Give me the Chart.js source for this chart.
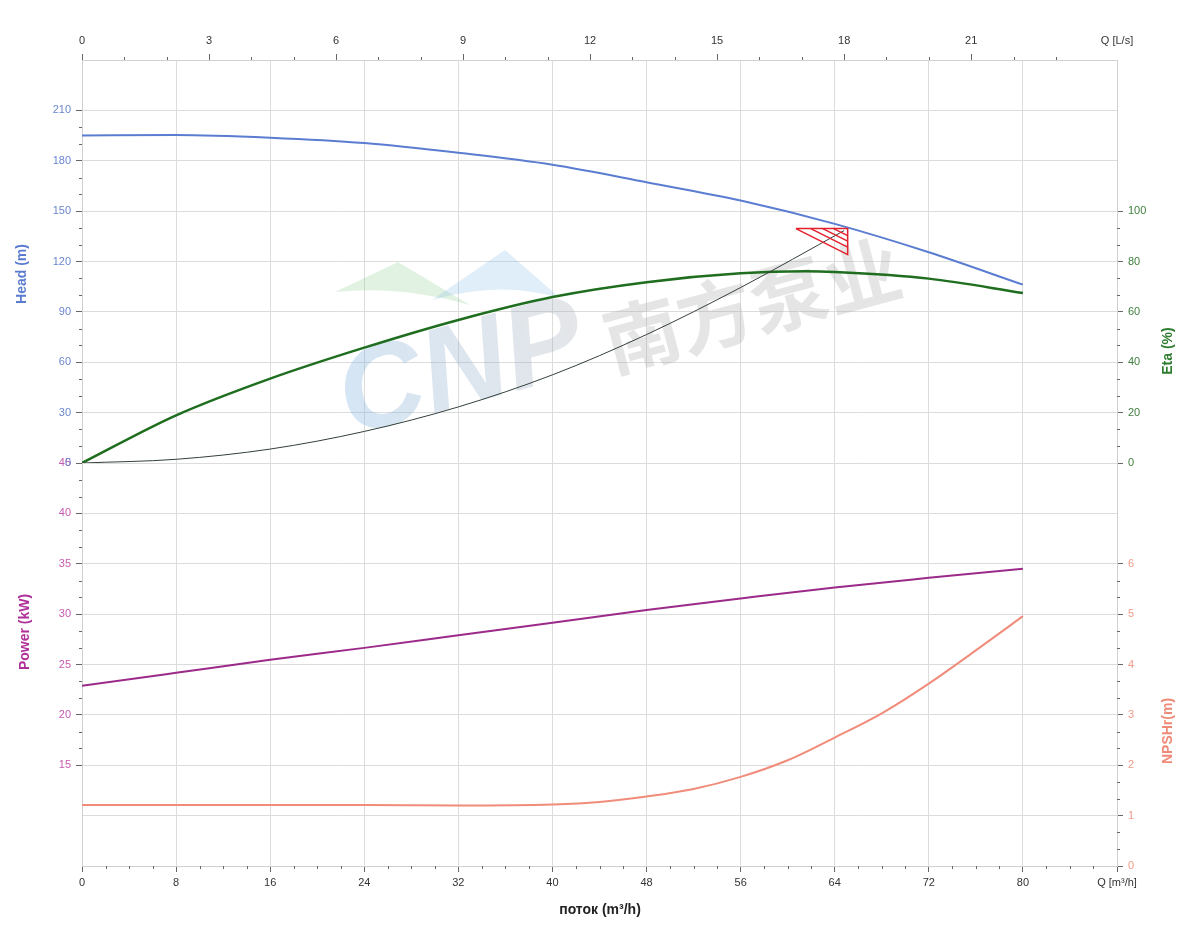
<!DOCTYPE html>
<html><head><meta charset="utf-8">
<script src="https://cdn.jsdelivr.net/npm/chart.js@4"></script>
<style>html,body{margin:0;padding:0;background:#fff}#wrap{width:1200px;height:950px;position:relative}</style>
</head><body><div id="wrap"><canvas id="c"></canvas></div>
<script>
// ---- data ----
const headFlow   = [0, 8, 16, 24, 32, 40, 48, 56, 64, 72, 80];
const headValues = [195.1, 195.3, 193.7, 190.5, 184.7, 177.6, 167.2, 156.3, 142.4, 125.5, 106.2];
const etaFlow    = [0, 8, 16, 24, 32, 40, 48, 56, 61.5, 64, 72, 80];
const etaValues  = [0, 18.9, 33.5, 45.8, 56.8, 65.9, 71.8, 75.3, 76.1, 75.8, 73.2, 67.5];
const systemFlow = [0, 8, 16, 24, 32, 40, 48, 56, 64.8];
const systemHead = [0, 2.2, 8.3, 18.8, 33.4, 52.5, 76.5, 104.5, 138.4];
const powerFlow  = [0, 8, 16, 24, 32, 40, 48, 56, 64, 72, 80];
const powerValues= [22.88, 24.17, 25.46, 26.65, 27.9, 29.15, 30.4, 31.55, 32.65, 33.6, 34.5];
const npshFlow   = [0, 8, 16, 24, 32, 40, 44, 48, 52, 56, 60, 64, 68, 72, 76, 80];
const npshValues = [1.21, 1.21, 1.21, 1.21, 1.2, 1.22, 1.27, 1.38, 1.53, 1.77, 2.1, 2.55, 3.03, 3.62, 4.28, 4.96];
const dutyTriFlow = [60.7, 65.1, 65.1, 60.7];
const dutyTriHead = [139.6, 139.6, 124.1, 139.6];
const hatchFlowStart = [61.96, 62.98, 63.91];
const hatchHeadStart = [139.6, 139.6, 139.6];
const hatchFlowEnd   = [65.1, 65.1, 65.1];
const hatchHeadEnd   = [128.6, 132.1, 135.4];

// ---- axis tick labels ----
const flowTickLabels = [0, 8, 16, 24, 32, 40, 48, 56, 64, 72, 80];   // m³/h
const flowAxisName = 'Q [m³/h]';
const lsTickLabels = [0, 3, 6, 9, 12, 15, 18, 21];                  // L/s
const lsAxisName = 'Q [L/s]';
const headTickLabels = [0, 30, 60, 90, 120, 150, 180, 210];
const powerTickLabels = [15, 20, 25, 30, 35, 40, 45];
const etaTickLabels = [0, 20, 40, 60, 80, 100];
const npshTickLabels = [0, 1, 2, 3, 4, 5, 6];

const FONT = "'Liberation Sans', Arial, sans-serif";
const pts = (xs, ys) => xs.map((x, i) => ({x, y: ys[i]}));

const hatchSets = hatchFlowStart.map((f, i) => ({
  data: [{x: f, y: hatchHeadStart[i]}, {x: hatchFlowEnd[i], y: hatchHeadEnd[i]}],
  xAxisID: 'x', yAxisID: 'yHead', borderColor: '#e3202c', borderWidth: 1.5,
  showLine: true, pointRadius: 0, tension: 0
}));

const tickLen = 6;
function gridCfg(labels, drawArea) {
  return {
    color: '#dcdcdc', lineWidth: 1, drawOnChartArea: drawArea, tickLength: tickLen,
    tickColor: ctx => (ctx.tick && labels.includes(Math.round(ctx.tick.value * 1000) / 1000)) ? '#666' : 'rgba(0,0,0,0)'
  };
}
function lbl(labels) {
  return v => labels.includes(Math.round(v * 1000) / 1000) ? String(v) : '';
}

// minor ticks plugin
const minorDefs = {
  x:      {from: 0, to: 88, step: 2, major: 8},
  x2:     {from: 0, to: 24, step: 1, major: 3},
  yHead:  {from: 0, to: 210, step: 10, major: 30},
  yPower: {from: 15, to: 45, step: 5 / 3, major: 5},
  yEta:   {from: 0, to: 100, step: 20 / 3, major: 20},
  yNpsh:  {from: 0, to: 6, step: 1 / 3, major: 1}
};
const minorPlugin = {
  id: 'minor',
  afterDraw(chart) {
    const ctx = chart.ctx, a = chart.chartArea;
    ctx.save();
    ctx.strokeStyle = '#666'; ctx.lineWidth = 1;
    for (const id in minorDefs) {
      const d = minorDefs[id], s = chart.scales[id];
      const n = Math.round((d.to - d.from) / d.step);
      for (let i = 0; i <= n; i++) {
        const v = d.from + i * d.step;
        const r = v / d.major;
        if (Math.abs(r - Math.round(r)) < 1e-6) continue;
        const p = Math.round(s.getPixelForValue(v)) + 0.5;
        ctx.beginPath();
        if (id === 'x') { ctx.moveTo(p, a.bottom); ctx.lineTo(p, a.bottom + 3); }
        else if (id === 'x2') { ctx.moveTo(p, a.top - 3); ctx.lineTo(p, a.top); }
        else if (id === 'yHead' || id === 'yPower') { ctx.moveTo(a.left - 3, p); ctx.lineTo(a.left, p); }
        else { ctx.moveTo(a.right, p); ctx.lineTo(a.right + 3, p); }
        ctx.stroke();
      }
    }
    ctx.restore();
  }
};

const titlePlugin = {
  id: 'titles',
  afterDraw(chart) {
    const ctx = chart.ctx;
    const vt = (text, x, y, color) => {
      ctx.save(); ctx.translate(x, y); ctx.rotate(-Math.PI / 2);
      ctx.font = 'bold 14px ' + FONT; ctx.fillStyle = color;
      ctx.textAlign = 'center'; ctx.textBaseline = 'middle';
      ctx.fillText(text, 0, 0); ctx.restore();
    };
    vt('Head (m)', 22, 274, '#5a7bd0');
    vt('Power (kW)', 25, 632, '#b0309a');
    vt('Eta (%)', 1168, 351, '#2e7d2e');
    vt('NPSHr(m)', 1168, 731, '#f08a78');
    ctx.save();
    ctx.font = 'bold 14px ' + FONT; ctx.fillStyle = '#222';
    ctx.textAlign = 'center'; ctx.textBaseline = 'middle';
    ctx.fillText('поток (m³/h)', 600, 910);
    ctx.restore();
  }
};

const watermarkPlugin = {
  id: 'watermark',
  beforeDatasetsDraw(chart) {
    const ctx = chart.ctx;
    ctx.save();
    ctx.fillStyle = 'rgba(140,205,140,0.25)';
    ctx.beginPath(); ctx.moveTo(335, 292); ctx.lineTo(398, 262); ctx.lineTo(470, 305);
    ctx.quadraticCurveTo(400, 285, 335, 292); ctx.fill();
    ctx.fillStyle = 'rgba(140,195,235,0.28)';
    ctx.beginPath(); ctx.moveTo(432, 300); ctx.lineTo(505, 250); ctx.lineTo(560, 298);
    ctx.quadraticCurveTo(500, 280, 432, 300); ctx.fill();
    ctx.restore();

    ctx.save();
    ctx.translate(462, 372); ctx.rotate(-15 * Math.PI / 180);
    ctx.font = 'italic bold 118px ' + FONT;
    const g = ctx.createLinearGradient(-130, 0, 130, 0);
    g.addColorStop(0, 'rgba(120,175,225,0.32)');
    g.addColorStop(1, 'rgba(160,165,175,0.28)');
    ctx.fillStyle = g;
    ctx.textAlign = 'center'; ctx.textBaseline = 'middle';
    ctx.fillText('CNP', 0, 0);
    ctx.restore();

    ctx.save();
    ctx.translate(752, 305); ctx.rotate(-15 * Math.PI / 180);
    ctx.font = "bold 76px 'Noto Sans CJK SC'";
    ctx.fillStyle = 'rgba(170,170,170,0.3)';
    ctx.textAlign = 'center'; ctx.textBaseline = 'middle';
    ctx.fillText('南方泵业', 0, 0);
    ctx.restore();
  }
};

const tickFont = {family: FONT, size: 11};

new Chart(document.getElementById('c'), {
  type: 'scatter',
  data: {
    datasets: [
      {data: pts(dutyTriFlow, dutyTriHead), xAxisID: 'x', yAxisID: 'yHead', borderColor: '#e3202c', borderWidth: 1.5, showLine: true, pointRadius: 0, tension: 0},
      ...hatchSets,
      {data: pts(headFlow, headValues), xAxisID: 'x', yAxisID: 'yHead', borderColor: '#5b7dd1', borderWidth: 2, showLine: true, pointRadius: 0, cubicInterpolationMode: 'monotone'},
      {data: pts(systemFlow, systemHead), xAxisID: 'x', yAxisID: 'yHead', borderColor: '#34403a', borderWidth: 1, showLine: true, pointRadius: 0, cubicInterpolationMode: 'monotone'},
      {data: pts(etaFlow, etaValues), xAxisID: 'x', yAxisID: 'yEta', borderColor: '#1f6e1f', borderWidth: 2.5, showLine: true, pointRadius: 0, cubicInterpolationMode: 'monotone'},
      {data: pts(powerFlow, powerValues), xAxisID: 'x', yAxisID: 'yPower', borderColor: '#9c2a8a', borderWidth: 2, showLine: true, pointRadius: 0, cubicInterpolationMode: 'monotone'},
      {data: pts(npshFlow, npshValues), xAxisID: 'x', yAxisID: 'yNpsh', borderColor: '#f08c7a', borderWidth: 2, showLine: true, pointRadius: 0, cubicInterpolationMode: 'monotone'}
    ]
  },
  options: {
    responsive: true, maintainAspectRatio: false, animation: false,
    layout: {padding: 0},
    plugins: {legend: {display: false}, tooltip: {enabled: false}},
    scales: {
      x: {
        type: 'linear', position: 'bottom', min: 0, max: 88,
        ticks: {stepSize: 8, autoSkip: false, maxRotation: 0, color: '#333', font: tickFont, padding: 4,
                callback: v => v === 88 ? flowAxisName : (flowTickLabels.includes(v) ? String(v) : '')},
        grid: {color: '#dcdcdc', tickLength: tickLen, tickColor: '#666'},
        border: {color: '#d0d0d0'},
        afterFit(s) { s.height = 84; }
      },
      x2: {
        type: 'linear', position: 'top', min: 0, max: 88 / 3.6,
        afterBuildTicks(s) { s.ticks = lsTickLabels.concat([88 / 3.6]).map(v => ({value: v})); },
        ticks: {autoSkip: false, maxRotation: 0, color: '#333', font: tickFont, padding: 6,
                callback: v => v > 22 ? lsAxisName : String(v)},
        grid: {drawOnChartArea: false, tickLength: tickLen, tickColor: ctx => (ctx.tick && ctx.tick.value > 22) ? 'rgba(0,0,0,0)' : '#666'},
        border: {color: '#d0d0d0'},
        afterFit(s) { s.height = 60; }
      },
      yPower: {
        type: 'linear', position: 'left', stack: 'left', stackWeight: 1, min: 5, max: 45,
        ticks: {stepSize: 5, autoSkip: false, color: '#c65bb0', font: tickFont, padding: 5, callback: lbl(powerTickLabels)},
        grid: gridCfg(powerTickLabels, true),
        border: {color: '#d0d0d0'},
        afterFit(s) { s.width = 82; }
      },
      yHead: {
        type: 'linear', position: 'left', stack: 'left', stackWeight: 1, min: 0, max: 240,
        ticks: {stepSize: 30, autoSkip: false, color: '#6a86cc', font: tickFont, padding: 5, callback: lbl(headTickLabels)},
        grid: gridCfg(headTickLabels, true),
        border: {color: '#d0d0d0'},
        afterFit(s) { s.width = 82; }
      },
      yEta: {
        type: 'linear', position: 'right', stack: 'right', stackWeight: 1, min: 0, max: 160,
        ticks: {stepSize: 20, autoSkip: false, color: '#3f7f3f', font: tickFont, padding: 5, callback: lbl(etaTickLabels)},
        grid: gridCfg(etaTickLabels, false),
        border: {color: '#d0d0d0'},
        afterFit(s) { s.width = 83; }
      },
      yNpsh: {
        type: 'linear', position: 'right', stack: 'right', stackWeight: 1, min: 0, max: 8,
        ticks: {stepSize: 1, autoSkip: false, color: '#f29a88', font: tickFont, padding: 5, callback: lbl(npshTickLabels)},
        grid: gridCfg(npshTickLabels, false),
        border: {color: '#d0d0d0'},
        afterFit(s) { s.width = 83; }
      }
    }
  },
  plugins: [watermarkPlugin, minorPlugin, titlePlugin]
});
</script>
</body></html>
